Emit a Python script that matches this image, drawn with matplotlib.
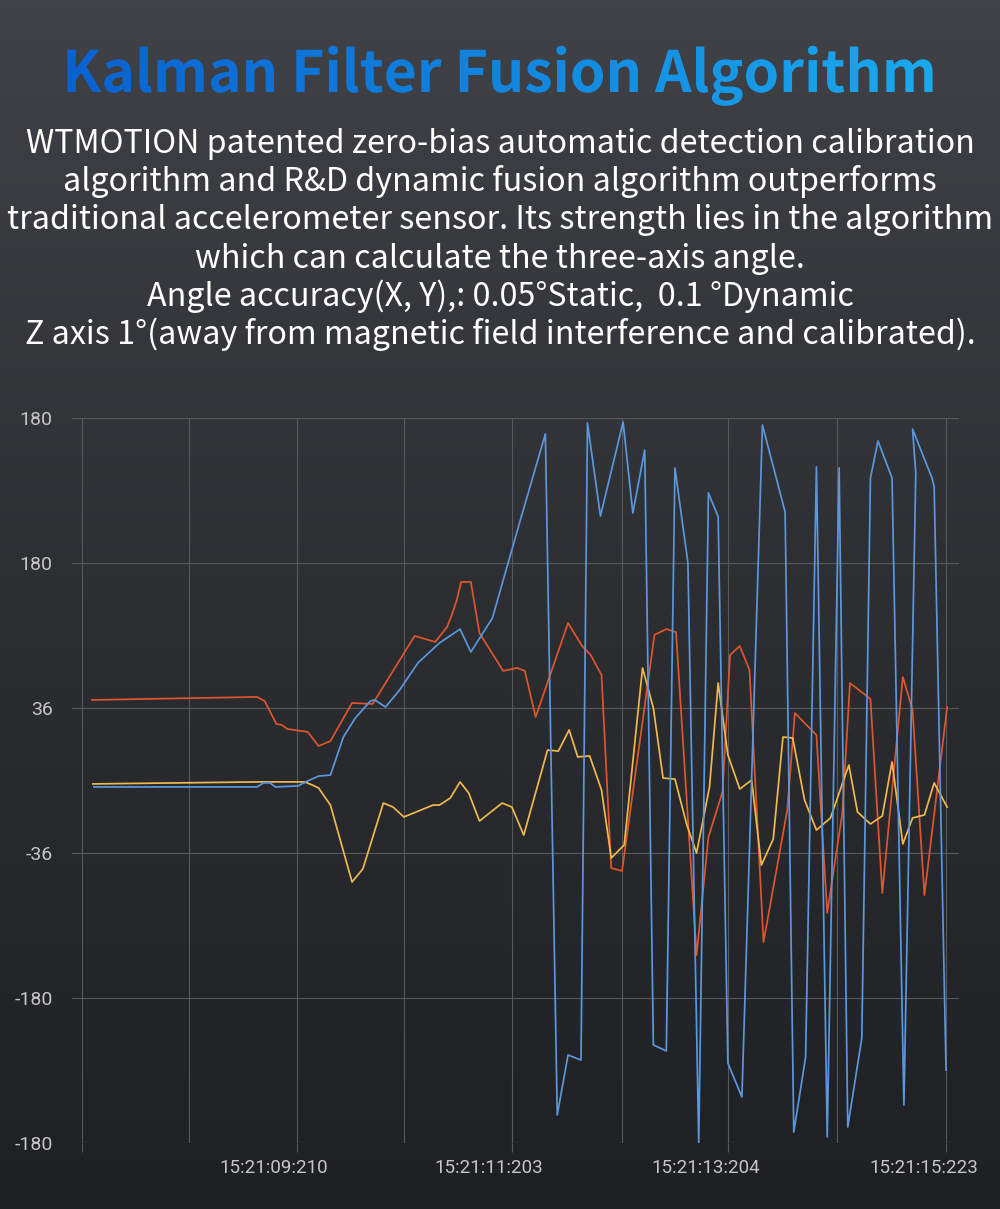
import matplotlib
matplotlib.use("Agg")
import matplotlib.pyplot as plt
import numpy as np
from matplotlib.font_manager import FontProperties
from matplotlib.textpath import TextPath
from matplotlib.patches import PathPatch
from matplotlib.transforms import Affine2D, ScaledTranslation

# texto
titulo = "Kalman Filter Fusion Algorithm"
parrafo = [
    "WTMOTION patented zero-bias automatic detection calibration",
    "algorithm and R&D dynamic fusion algorithm outperforms",
    "traditional accelerometer sensor. Its strength lies in the algorithm",
    "which can calculate the three-axis angle.",
    "Angle accuracy(X, Y),: 0.05°Static,  0.1 °Dynamic",
    "Z axis 1°(away from magnetic field interference and calibrated).",
]

# ejes
y_ticks = [-180, -108, -36, 36, 108, 180]
y_labels = ["-180", "-180", "-36", "36", "180", "180"]
x_major = [7.22, 9.21, 11.203, 13.204, 15.223]
x_labels = ["", "15:21:09:210", "15:21:11:203", "15:21:13:204", "15:21:15:223"]
x_minor = [8.21, 10.20, 12.22, 14.21]

# series (tiempo en s, angulo)
t_naranja = [7.31, 8.84, 8.91, 9.02, 9.07, 9.12, 9.31, 9.41, 9.52, 9.72, 9.91, 10.30, 10.49, 10.60,
             10.65, 10.69, 10.73, 10.82, 10.90, 11.12, 11.25, 11.32, 11.42, 11.72, 11.85, 11.93,
             12.03, 12.12, 12.22, 12.52, 12.63, 12.72, 12.91, 13.02, 13.15, 13.22, 13.31, 13.40,
             13.53, 13.75, 13.82, 14.02, 14.12, 14.26, 14.33, 14.52, 14.63, 14.82, 14.91, 15.02, 15.23]
v_naranja = [40.0, 41.5, 39.5, 28.1, 27.6, 25.6, 24.1, 17.1, 19.6, 38.5, 38.0, 71.8, 68.8, 76.2,
             83.2, 89.6, 98.6, 98.6, 73.2, 54.4, 55.9, 54.4, 31.5, 78.2, 66.8, 62.3,
             52.4, -43.5, -44.9, 72.3, 75.2, 73.7, -86.7, -28.1, -5.7, 62.3, 66.8, 54.9,
             -80.2, -14.6, 33.5, 22.6, -65.8, -16.1, 48.4, 40.5, -55.9, 51.4, 35.0, -56.9, 36.5]

t_azul = [7.33, 8.84, 8.90, 8.96, 9.01, 9.22, 9.31, 9.41, 9.52, 9.64, 9.75, 9.89, 9.93, 10.03,
          10.16, 10.33, 10.53, 10.72, 10.82, 11.02, 11.26, 11.51, 11.62, 11.72, 11.84, 11.90,
          12.02, 12.23, 12.32, 12.43, 12.51, 12.63, 12.71, 12.83, 12.93, 13.02, 13.11, 13.20,
          13.33, 13.52, 13.73, 13.81, 13.92, 14.02, 14.12, 14.23, 14.31, 14.44, 14.52, 14.59,
          14.72, 14.83, 14.94, 14.91, 15.09, 15.11, 15.22]
v_azul = [-3.2, -3.2, -1.2, -1.2, -3.2, -2.7, -0.2, 2.2, 2.7, 21.6, 31.0, 39.5, 40.0, 36.5,
          44.9, 58.4, 68.3, 75.2, 63.8, 80.7, 125.9, 172.1, -166.1, -136.3, -138.8, 177.5,
          131.3, 178.0, 132.8, 164.1, -131.3, -134.3, 155.2, 108.0, -180.0, 142.8, 130.9, -140.3,
          -157.2, 176.5, 133.3, -174.6, -137.3, 155.7, -177.0, 155.2, -172.1, -127.9, 150.2, 168.6,
          150.2, -161.1, 152.7, 174.5, 150.2, 145.8, -143.8]

t_amarillo = [7.32, 8.85, 9.28, 9.35, 9.41, 9.52, 9.72, 9.82, 10.01, 10.10, 10.20, 10.47, 10.53,
              10.63, 10.72, 10.80, 10.90, 11.11, 11.20, 11.31, 11.53, 11.63, 11.73, 11.81, 11.92,
              12.03, 12.12, 12.24, 12.41, 12.51, 12.60, 12.71, 12.82, 12.91, 13.03, 13.11, 13.20,
              13.31, 13.42, 13.51, 13.62, 13.71, 13.80, 13.91, 14.02, 14.15, 14.32, 14.40, 14.52,
              14.63, 14.72, 14.82, 14.91, 15.02, 15.11, 15.23]
v_amarillo = [-1.7, -0.7, -0.7, -2.2, -3.7, -12.2, -50.4, -43.9, -11.2, -13.2, -18.1, -12.2, -12.2,
              -8.7, -0.7, -6.2, -20.1, -11.2, -13.2, -27.1, 15.1, 14.6, 25.1, 11.7, 12.2,
              -4.7, -38.5, -32.0, 55.9, 36.0, 1.2, 0.7, -22.1, -36.0, -3.2, 48.4, 12.7,
              -4.2, 0.2, -42.0, -29.1, 21.6, 21.1, -9.7, -24.6, -18.6, 7.7, -15.6, -21.6,
              -17.6, 9.2, -31.5, -18.6, -17.1, -1.2, -13.2]

fig = plt.figure(figsize=(10, 12.09), dpi=100)

# fondo con degradado
bg = fig.add_axes([0, 0, 1, 1])
bg.set_xlim(0, 1000)
bg.set_ylim(0, 1209)
bg.axis("off")
fondo = np.linspace(0, 1, 256).reshape(-1, 1)
cmap_fondo = matplotlib.colors.LinearSegmentedColormap.from_list("f", ["#1f2023", "#2c2e32", "#404247"])
bg.imshow(fondo, cmap=cmap_fondo, extent=[0, 1000, 0, 1209], origin="lower", aspect="auto", zorder=0)

# titulo con degradado azul
fp = FontProperties(family="Noto Sans CJK SC", weight="bold")
tp = TextPath((0, 0), titulo, size=57, prop=fp)
ext = tp.get_extents()
dx = 500 - (ext.x0 + ext.x1) / 2
base = 1209 - 92
tr = Affine2D().translate(dx, base) + bg.transData
patch = PathPatch(tp, transform=tr, facecolor="none", edgecolor="none")
bg.add_patch(patch)
grad = np.linspace(0, 1, 256).reshape(1, -1)
cmap_tit = matplotlib.colors.LinearSegmentedColormap.from_list("t", ["#0a62d0", "#1aa9ee"])
im = bg.imshow(grad, cmap=cmap_tit, extent=[ext.x0 + dx, ext.x1 + dx, base + ext.y0, base + ext.y1],
               origin="lower", aspect="auto", zorder=2)
im.set_clip_path(patch)
bg.set_xlim(0, 1000)
bg.set_ylim(0, 1209)

# parrafo
for i, linea in enumerate(parrafo):
    fig.text(0.5, 1 - (153 + 38.2 * i) / 1209, linea, ha="center", va="baseline", fontsize=23.2,
             color="white", family=["Noto Sans CJK SC", "DejaVu Sans"])

# grafica
ax = fig.add_axes([72 / 1000, 1 - 1143 / 1209, (959 - 72) / 1000, (1143 - 418) / 1209])
ax.set_facecolor("none")
ax.plot(t_naranja, v_naranja, color="#df562c", lw=1.25, zorder=3)
ax.plot(t_amarillo, v_amarillo, color="#f0b94c", lw=1.25, zorder=3)
ax.plot(t_azul, v_azul, color="#5b97dd", lw=1.25, zorder=4)

ax.set_xlim(7.127, 15.34)
ax.set_ylim(-180, 180)
ax.set_yticks(y_ticks)
ax.set_yticklabels(y_labels)
ax.set_xticks(x_major)
ax.set_xticklabels(x_labels)
ax.set_xticks(x_minor, minor=True)

for s in ax.spines.values():
    s.set_visible(False)
gris = "#57595d"
ax.grid(True, which="both", color=gris, lw=0.8)
ax.tick_params(axis="y", length=0, pad=14, labelsize=14, labelcolor="#c6c6c6")
ax.tick_params(axis="x", which="major", length=6.5, width=0.8, color=gris, pad=5,
               labelsize=13.5, labelcolor="#c6c6c6")
ax.tick_params(axis="x", which="minor", length=0)
for lab in ax.get_xticklabels() + ax.get_yticklabels():
    lab.set_fontfamily("Roboto")
off = ScaledTranslation(-0.23, 0, fig.dpi_scale_trans)
for lab in ax.get_xticklabels():
    lab.set_transform(lab.get_transform() + off)

plt.savefig("out.png", dpi=100)
